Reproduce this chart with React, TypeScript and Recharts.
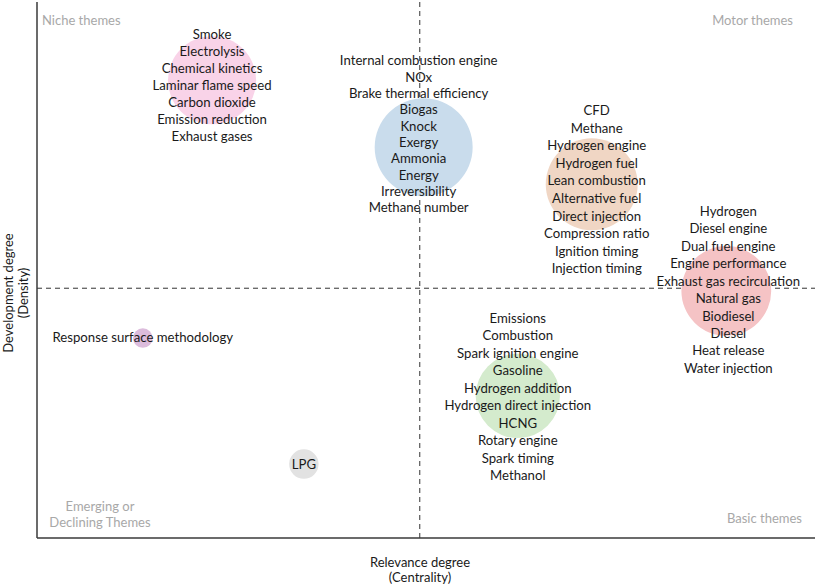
import React from "react";
import {
    ScatterChart,
    Scatter,
    XAxis,
    YAxis,
    ZAxis,
    ReferenceLine,
    Cell,
} from "recharts";

// theme clusters (bubble position = centrality / density, size = weight)
const themes = ["Niche", "Fuels", "Hydrogen", "Diesel", "Spark ignition", "RSM", "LPG"];
const centrality = [22.5, 49.7, 71.3, 88.6, 61.8, 13.6, 34.3];
const density = [85.4, 72.9, 66.0, 46.1, 26.5, 37.3, 13.8];
const weight = [81, 100, 88, 84, 74, 4, 9];

const nicheTerms = ["Smoke", "Electrolysis", "Chemical kinetics", "Laminar flame speed", "Carbon dioxide", "Emission reduction", "Exhaust gases"];
const fuelTerms = ["Internal combustion engine", "NOx", "Brake thermal efficiency", "Biogas", "Knock", "Exergy", "Ammonia", "Energy", "Irreversibility", "Methane number"];
const hydrogenTerms = ["CFD", "Methane", "Hydrogen engine", "Hydrogen fuel", "Lean combustion", "Alternative fuel", "Direct injection", "Compression ratio", "Ignition timing", "Injection timing"];
const dieselTerms = ["Hydrogen", "Diesel engine", "Dual fuel engine", "Engine performance", "Exhaust gas recirculation", "Natural gas", "Biodiesel", "Diesel", "Heat release", "Water injection"];
const sparkTerms = ["Emissions", "Combustion", "Spark ignition engine", "Gasoline", "Hydrogen addition", "Hydrogen direct injection", "HCNG", "Rotary engine", "Spark timing", "Methanol"];
const rsmTerms = ["Response surface methodology"];
const lpgTerms = ["LPG"];
const terms = [nicheTerms, fuelTerms, hydrogenTerms, dieselTerms, sparkTerms, rsmTerms, lpgTerms];

// quadrant split
const centralityMid = 49.2;
const densityMid = 46.6;
const DOMAIN: [number, number] = [0, 100];

const COLORS = ["#f9d3e8", "#c9dcec", "#f0d6c4", "#f5c3c5", "#d4ebcd", "#dcbcdc", "#e2e2e2"];
// text block offsets relative to bubble centre
const LABEL_LAYOUT = [
    { dx: 0, dy: 4.7, lh: 16.9 },
    { dx: -5, dy: -13.5, lh: 16.3 },
    { dx: 5, dy: 5, lh: 17.55 },
    { dx: 2, dy: -1.5, lh: 17.44 },
    { dx: 0, dy: 0.5, lh: 17.44 },
    { dx: 0, dy: -1, lh: 17 },
    { dx: 0, dy: 0, lh: 17 },
];

const FONT = "Lato, sans-serif";
const W = 817;
const H = 587;
const MARGIN = { top: 2, right: 2, bottom: 49, left: 37 };

const data = themes.map((name, i) => ({
    name,
    x: centrality[i],
    y: density[i],
    z: weight[i],
    i,
}));

function TermBlock(props: any) {
    const { cx, cy, payload } = props;
    const idx = payload.i;
    const list = terms[idx];
    const lay = LABEL_LAYOUT[idx];
    const start = cy + lay.dy - ((list.length - 1) / 2) * lay.lh;
    return (
        <g>
            {list.map((t, k) => (
                <text
                    key={t}
                    x={cx + lay.dx}
                    y={start + k * lay.lh}
                    textAnchor="middle"
                    dominantBaseline="central"
                    fontFamily={FONT}
                    fontSize={13.2}
                    fill="#1a1a1a"
                >
                    {t}
                </text>
            ))}
        </g>
    );
}

const quad: React.CSSProperties = {
    position: "absolute",
    fontFamily: FONT,
    fontSize: 13,
    color: "#a8a8a8",
    lineHeight: "16px",
};

const axisTitle: React.CSSProperties = {
    position: "absolute",
    fontFamily: FONT,
    fontSize: 13,
    color: "#1a1a1a",
    textAlign: "center",
    lineHeight: "15px",
};

const layer: React.CSSProperties = { position: "absolute", left: 0, top: 0 };

export default function App() {
    return (
        <div style={{ position: "absolute", left: 0, top: 0, width: W, height: H, background: "#fff" }}>
            {/* bottom layer: axes and dashed quadrant split */}
            <div style={layer}>
                <ScatterChart width={W} height={H} margin={MARGIN}>
                    <XAxis type="number" dataKey="x" domain={DOMAIN} hide />
                    <YAxis type="number" dataKey="y" domain={DOMAIN} hide />
                    <Scatter data={data} isAnimationActive={false} shape={() => null} />
                    <ReferenceLine x={centralityMid} stroke="#333" strokeDasharray="5 4" />
                    <ReferenceLine y={densityMid} stroke="#333" strokeDasharray="5 4" />
                    <ReferenceLine x={0} stroke="#3a3a3a" strokeWidth={1.5} />
                    <ReferenceLine y={0} stroke="#3a3a3a" strokeWidth={1.5} />
                </ScatterChart>
            </div>

            {/* top layer: bubbles and keyword lists */}
            <div style={layer}>
                <ScatterChart width={W} height={H} margin={MARGIN}>
                    <XAxis type="number" dataKey="x" domain={DOMAIN} hide />
                    <YAxis type="number" dataKey="y" domain={DOMAIN} hide />
                    <ZAxis type="number" dataKey="z" domain={[0, 100]} range={[0, 7540]} />
                    <Scatter data={data} isAnimationActive={false}>
                        {data.map((d, i) => (
                            <Cell key={d.name} fill={COLORS[i]} />
                        ))}
                    </Scatter>
                    <Scatter data={data} isAnimationActive={false} shape={(p: any) => <TermBlock {...p} />} />
                </ScatterChart>
            </div>

            <div style={{ ...quad, left: 42, top: 12 }}>Niche themes</div>
            <div style={{ ...quad, right: 24, top: 12 }}>Motor themes</div>
            <div style={{ ...quad, right: 15, top: 510 }}>Basic themes</div>
            <div style={{ ...quad, left: 30, width: 140, top: 498, textAlign: "center" }}>
                Emerging or
                <br />
                Declining Themes
            </div>

            <div style={{ ...axisTitle, left: 320, width: 200, top: 555 }}>
                Relevance degree
                <br />
                (Centrality)
            </div>
            <div
                style={{
                    ...axisTitle,
                    left: -84,
                    width: 200,
                    top: 278,
                    transform: "rotate(-90deg)",
                }}
            >
                Development degree
                <br />
                (Density)
            </div>
        </div>
    );
}
